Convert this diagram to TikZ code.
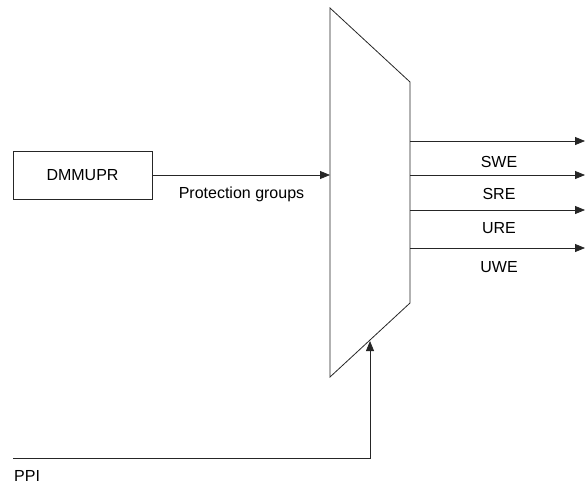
\documentclass[tikz,border=0pt]{standalone}
\usepackage{fontspec}
\setmainfont{Liberation Sans}
\usetikzlibrary{arrows.meta}
\begin{document}
\begin{tikzpicture}[x=1pt,y=-1pt,
  ln/.style={line width=0.8pt,draw=black!85},
  arr/.style={ln,-{Triangle[length=10pt,width=8pt]}},
  lbl/.style={font=\fontsize{16}{18}\selectfont,inner sep=0pt},
  box/.style={ln,minimum width=139pt,minimum height=48pt,inner sep=0pt,font=\fontsize{16}{18}\selectfont}]
\useasboundingbox (0,0) rectangle (585,485);
% trapezoid
\coordinate (tl) at (330,8);
\coordinate (tr) at (410,82);
\coordinate (br) at (410,303);
\coordinate (bl) at (330,377);
\draw[ln] (tl) -- (tr) -- (br) -- (bl) -- cycle;
% input box
\node[box,draw] (dmm) at (82.5,175) {DMMUPR};
\coordinate (in) at (330,175);
\draw[arr] (dmm.east) -- (in);
\node[lbl] (pg) at (241.5,194) {Protection groups};
% outputs
\foreach \y/\n in {141/o1,175/o2,210/o3,248/o4}{
  \coordinate (\n s) at (410,\y);
  \coordinate (\n e) at (585,\y);
  \draw[arr] (\n s) -- (\n e);
}
\node[lbl] (swe) at (499,162) {SWE};
\node[lbl] (sre) at (499,194) {SRE};
\node[lbl] (ure) at (499,228.5) {URE};
\node[lbl] (uwe) at (499,267) {UWE};
% PPI
\coordinate (ppis) at (13,458);
\coordinate (ppic) at (370,458);
\coordinate (ppie) at (370,341);
\draw[arr] (ppis) -- (ppic) -- (ppie);
\node[lbl,anchor=west] (ppi) at (14,476) {PPI};
\end{tikzpicture}
\end{document}
